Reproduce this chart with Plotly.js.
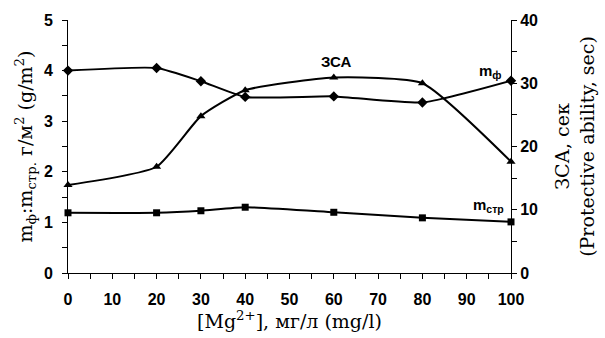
<!DOCTYPE html>
<html><head><meta charset="utf-8">
<script src="https://cdn.plot.ly/plotly-3.0.1.min.js"></script>
<style>body{margin:0;background:#fff}#c{width:605px;height:338px}</style>
</head><body><div id="c"></div>
<script>
const mg = [0, 20, 30, 40, 60, 80, 100];
const mF = [4.0, 4.05, 3.79, 3.48, 3.49, 3.37, 3.8];
const mStr = [1.19, 1.19, 1.23, 1.30, 1.20, 1.09, 1.01];
const zsa = [13.9, 16.8, 24.8, 28.9, 30.9, 30.0, 17.6];
const xTicks = [0, 10, 20, 30, 40, 50, 60, 70, 80, 90, 100];
const yTicks = [0, 1, 2, 3, 4, 5];
const y2Ticks = [0, 10, 20, 30, 40];

const bold = a => a.map(v => '<b>' + v + '</b>');
const tickFont = {family: 'Liberation Sans Narrow, Liberation Sans, Arial', size: 16, color: '#000'};
const titleFont = {family: 'DejaVu Serif, Liberation Serif, serif', size: 19, color: '#000'};
const annFont = {family: 'Liberation Sans, Arial', size: 15, color: '#000'};
const line = {color: '#000', width: 2, shape: 'spline', smoothing: 0.5};

const traces = [
  {x: mg, y: mF, type: 'scatter', mode: 'lines+markers', line: line,
   marker: {symbol: 'diamond', size: 8, color: '#000'}, cliponaxis: false},
  {x: mg, y: mStr, type: 'scatter', mode: 'lines+markers', line: line,
   marker: {symbol: 'square', size: 7, color: '#000'}, cliponaxis: false},
  {x: mg, y: zsa, yaxis: 'y2', type: 'scatter', mode: 'lines+markers', line: line,
   marker: {symbol: 'triangle-up', size: 8, color: '#000'}, cliponaxis: false}
];

const layout = {
  width: 605, height: 338,
  margin: {l: 68, r: 94, t: 20, b: 65},
  paper_bgcolor: '#fff', plot_bgcolor: '#fff',
  showlegend: false,
  xaxis: {range: [0, 100], tickmode: 'array', tickvals: xTicks, ticktext: bold(xTicks),
    showgrid: false, zeroline: false,
    showline: true, linecolor: '#000', linewidth: 1, ticks: 'outside', ticklen: 5, tickcolor: '#000',
    ticklabelstandoff: 7,
    minor: {dtick: 5, tick0: 0, ticks: 'outside', ticklen: 5, tickcolor: '#000', showgrid: false},
    tickfont: tickFont,
    title: {text: '[Mg<sup>2+</sup>], мг/л (mg/l)', font: titleFont, standoff: 6}},
  yaxis: {range: [0, 5], tickmode: 'array', tickvals: yTicks, ticktext: bold(yTicks),
    showgrid: false, zeroline: false,
    showline: true, linecolor: '#000', linewidth: 1, ticks: 'outside', ticklen: 5, tickcolor: '#000',
    ticklabelstandoff: 6,
    minor: {dtick: 0.5, tick0: 0, ticks: 'outside', ticklen: 5, tickcolor: '#000', showgrid: false},
    tickfont: tickFont,
    title: {text: 'm<sub>ф</sub>:m<sub>стр.</sub> г/м<sup>2</sup> (g/m<sup>2</sup>)', font: titleFont, standoff: 6}},
  yaxis2: {range: [0, 40], tickmode: 'array', tickvals: y2Ticks, ticktext: bold(y2Ticks),
    overlaying: 'y', side: 'right', showgrid: false, zeroline: false,
    showline: true, linecolor: '#000', linewidth: 1, ticks: 'outside', ticklen: 5, tickcolor: '#000',
    minor: {dtick: 5, tick0: 0, ticks: 'outside', ticklen: 5, tickcolor: '#000', showgrid: false},
    tickfont: tickFont,
    title: {text: 'ЗСА, сек<br>(Protective ability, sec)', font: titleFont, standoff: 18}},
  annotations: [
    {x: 60.5, y: 33.4, yref: 'y2', xref: 'x', text: '<b>ЗСА</b>', showarrow: false, font: annFont},
    {x: 95.3, y: 3.99, xref: 'x', yref: 'y', text: '<b>m<sub>ф</sub></b>', showarrow: false, font: annFont},
    {x: 94.9, y: 1.33, xref: 'x', yref: 'y', text: '<b>m<sub>стр</sub></b>', showarrow: false, font: annFont}
  ]
};
Plotly.newPlot('c', traces, layout, {staticPlot: true, displayModeBar: false});
</script></body></html>
